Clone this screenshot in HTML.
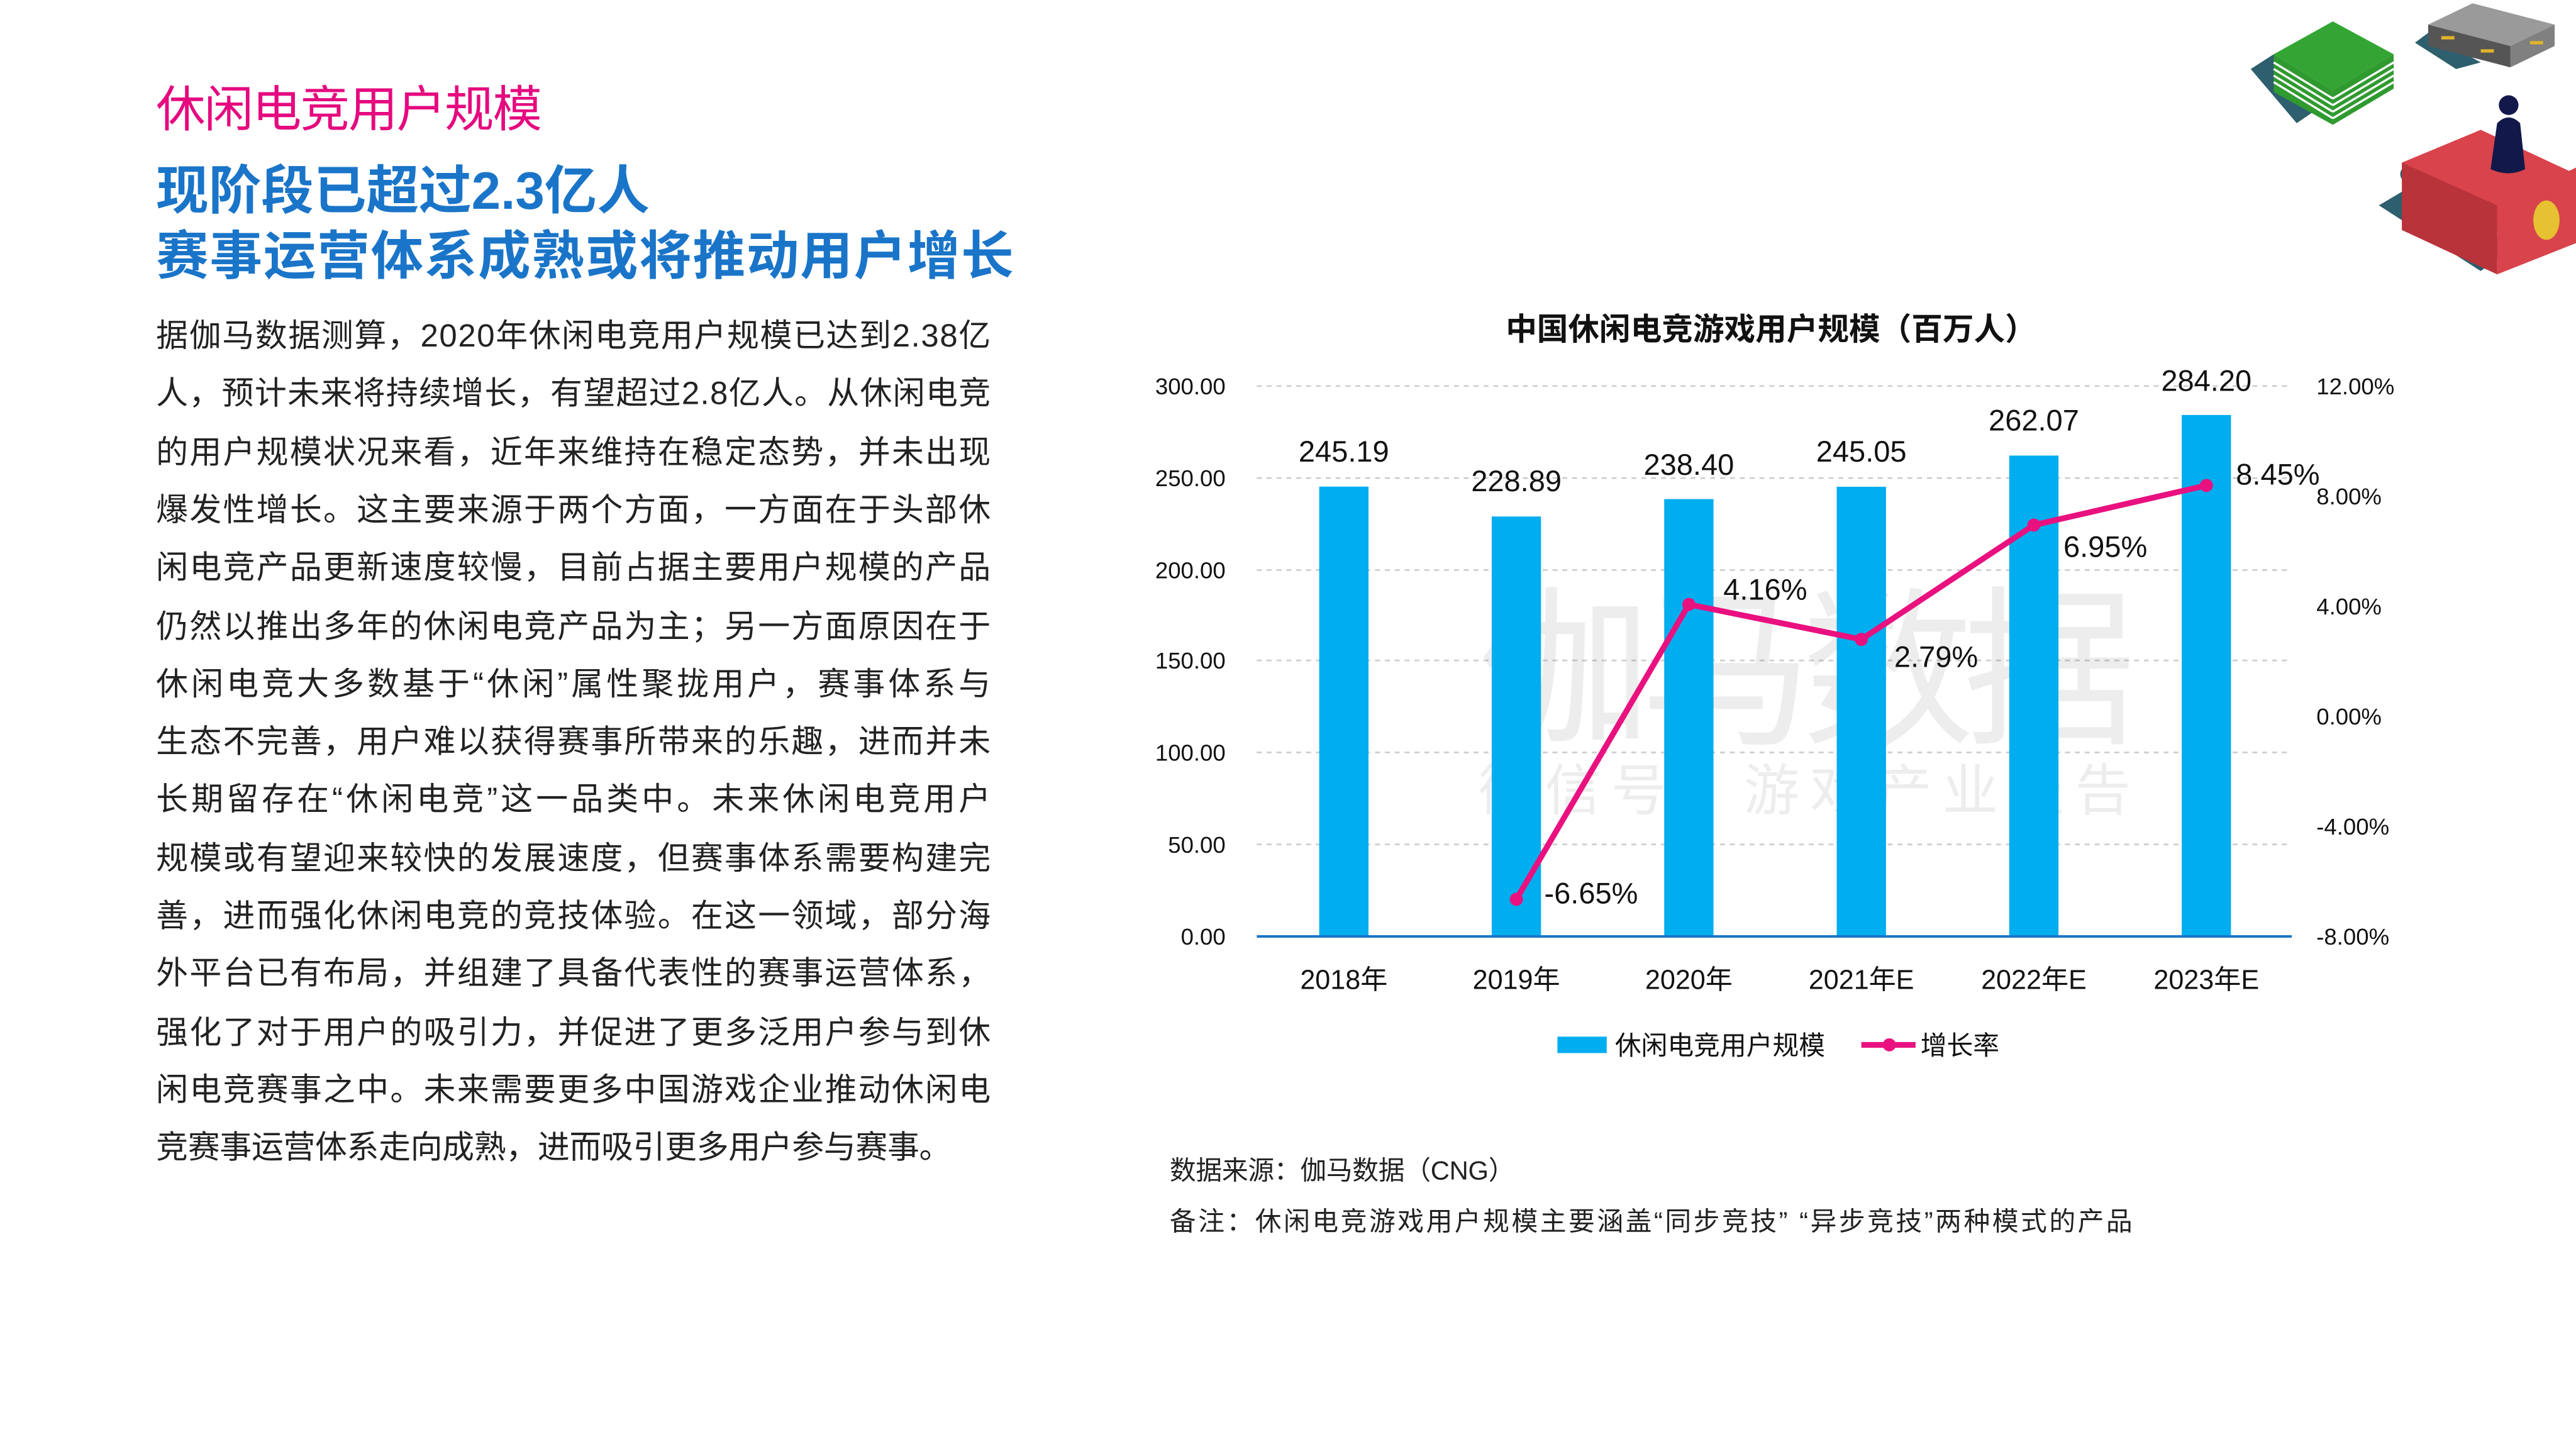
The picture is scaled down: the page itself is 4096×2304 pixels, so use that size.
<!DOCTYPE html>
<html><head><meta charset="utf-8"><style>
html,body{margin:0;padding:0;background:#fff;}
svg{display:block;}
text{font-family:"Liberation Sans","Noto Sans CJK SC",sans-serif;}
</style></head><body>
<svg width="4096" height="2304" viewBox="0 0 1568 882" xmlns="http://www.w3.org/2000/svg">
<rect width="1568" height="882" fill="#fff"/>
<polygon points="1370,42 1384,33 1420,60 1398,75" fill="#2e5f6e"/>
<polygon points="1384,33 1420,13 1457,33 1420,55" fill="#34a534"/>
<polygon points="1384,33 1420,55 1420,76 1384,56" fill="#2f9a2f"/>
<polygon points="1420,55 1457,33 1457,54 1420,76" fill="#2f9a2f"/>
<g stroke="#fff" stroke-width="1.3">
<line x1="1384" y1="38" x2="1420" y2="60"/><line x1="1420" y1="60" x2="1457" y2="38"/>
<line x1="1384" y1="42" x2="1420" y2="64"/><line x1="1420" y1="64" x2="1457" y2="42"/>
<line x1="1384" y1="46" x2="1420" y2="68"/><line x1="1420" y1="68" x2="1457" y2="46"/>
<line x1="1384" y1="50" x2="1420" y2="72"/><line x1="1420" y1="72" x2="1457" y2="50"/>
</g>
<polygon points="1470,26 1478,20 1510,38 1495,42" fill="#2e5f6e"/>
<polygon points="1478,15 1505,2 1555,15 1528,28" fill="#9a9a9a"/>
<polygon points="1478,15 1528,28 1528,41 1478,28" fill="#555"/>
<polygon points="1528,28 1555,15 1555,28 1528,41" fill="#808080"/>
<rect x="1486" y="22" width="8" height="2" fill="#e0b52a"/><rect x="1510" y="30" width="8" height="2" fill="#e0b52a"/><rect x="1540" y="25" width="8" height="2" fill="#e0b52a"/>
<polygon points="1448,125 1470,112 1530,150 1510,165" fill="#2e5f6e"/>
<circle cx="1466" cy="106" r="5" fill="#2e5f6e"/>
<polygon points="1462,99 1510,79 1568,106 1568,120 1520,140" fill="#d9434c"/>
<polygon points="1462,99 1520,125 1520,167 1462,140" fill="#b9333b"/>
<polygon points="1520,125 1568,102 1568,148 1520,167" fill="#d9434c"/>
<ellipse cx="1550" cy="134" rx="8" ry="12" fill="#e6c131"/>
<path d="M1520,75 Q1527,68 1534,75 L1537,103 Q1527,108 1516,103 Z" fill="#12194a"/>
<circle cx="1527" cy="64" r="6" fill="#12194a"/>
<text x="95" y="77" font-size="30" fill="#e5097f" textLength="235">休闲电竞用户规模</text>
<text x="95" y="127" font-size="32" font-weight="bold" fill="#1a75c9">现阶段已超过2.3亿人</text>
<text x="95" y="167" font-size="32" font-weight="bold" fill="#1a75c9" textLength="522">赛事运营体系成熟或将推动用户增长</text>
<g font-size="19.5" fill="#222">
<text x="95" y="211" textLength="508">据伽马数据测算，2020年休闲电竞用户规模已达到2.38亿</text>
<text x="95" y="246" textLength="508">人，预计未来将持续增长，有望超过2.8亿人。从休闲电竞</text>
<text x="95" y="282" textLength="508">的用户规模状况来看，近年来维持在稳定态势，并未出现</text>
<text x="95" y="317" textLength="508">爆发性增长。这主要来源于两个方面，一方面在于头部休</text>
<text x="95" y="352" textLength="508">闲电竞产品更新速度较慢，目前占据主要用户规模的产品</text>
<text x="95" y="388" textLength="508">仍然以推出多年的休闲电竞产品为主；另一方面原因在于</text>
<text x="95" y="423" textLength="508">休闲电竞大多数基于“休闲”属性聚拢用户，赛事体系与</text>
<text x="95" y="458" textLength="508">生态不完善，用户难以获得赛事所带来的乐趣，进而并未</text>
<text x="95" y="493" textLength="508">长期留存在“休闲电竞”这一品类中。未来休闲电竞用户</text>
<text x="95" y="529" textLength="508">规模或有望迎来较快的发展速度，但赛事体系需要构建完</text>
<text x="95" y="564" textLength="508">善，进而强化休闲电竞的竞技体验。在这一领域，部分海</text>
<text x="95" y="599" textLength="508">外平台已有布局，并组建了具备代表性的赛事运营体系，</text>
<text x="95" y="635" textLength="508">强化了对于用户的吸引力，并促进了更多泛用户参与到休</text>
<text x="95" y="670" textLength="508">闲电竞赛事之中。未来需要更多中国游戏企业推动休闲电</text>
<text x="95" y="705" textLength="484">竞赛事运营体系走向成熟，进而吸引更多用户参与赛事。</text>
</g>
<text x="1078" y="207" font-size="19" font-weight="bold" fill="#111" text-anchor="middle">中国休闲电竞游戏用户规模（百万人）</text>
<g stroke="#ccc" stroke-width="1" stroke-dasharray="3,3">
<line x1="765" y1="235" x2="1395" y2="235"/><line x1="765" y1="291" x2="1395" y2="291"/>
<line x1="765" y1="347" x2="1395" y2="347"/><line x1="765" y1="402" x2="1395" y2="402"/>
<line x1="765" y1="458" x2="1395" y2="458"/><line x1="765" y1="514" x2="1395" y2="514"/>
</g>
<text x="900" y="445" font-size="105" fill="#000" fill-opacity="0.07" textLength="400">伽马数据</text>
<text x="900" y="493" font-size="34" fill="#000" fill-opacity="0.07" textLength="397">微信号：游戏产业报告</text>
<g fill="#00adef">
<rect x="803" y="296.2" width="30" height="273.8"/>
<rect x="908" y="314.4" width="30" height="255.6"/>
<rect x="1013" y="303.8" width="30" height="266.2"/>
<rect x="1118" y="296.3" width="30" height="273.7"/>
<rect x="1223" y="277.3" width="30" height="292.7"/>
<rect x="1328" y="252.6" width="30" height="317.4"/>
</g>
<line x1="765" y1="570" x2="1395" y2="570" stroke="#1a75c9" stroke-width="1.5"/>
<g font-size="14" fill="#111" text-anchor="end">
<text x="746" y="240">300.00</text><text x="746" y="296">250.00</text><text x="746" y="352">200.00</text>
<text x="746" y="407">150.00</text><text x="746" y="463">100.00</text><text x="746" y="519">50.00</text><text x="746" y="575">0.00</text>
</g>
<g font-size="14" fill="#111">
<text x="1410" y="240">12.00%</text><text x="1410" y="307">8.00%</text><text x="1410" y="374">4.00%</text>
<text x="1410" y="441">0.00%</text><text x="1410" y="508">-4.00%</text><text x="1410" y="575">-8.00%</text>
</g>
<g font-size="16.5" fill="#111" text-anchor="middle">
<text x="818" y="602">2018年</text><text x="923" y="602">2019年</text><text x="1028" y="602">2020年</text>
<text x="1133" y="602">2021年E</text><text x="1238" y="602">2022年E</text><text x="1343" y="602">2023年E</text>
</g>
<g font-size="18" fill="#111" text-anchor="middle">
<text x="818" y="281">245.19</text><text x="923" y="299">228.89</text><text x="1028" y="289">238.40</text>
<text x="1133" y="281">245.05</text><text x="1238" y="262">262.07</text><text x="1343" y="238">284.20</text>
</g>
<polyline points="923,547.4 1028,367.9 1133,389.2 1238,319.6 1343,295.5" fill="none" stroke="#e9117f" stroke-width="3.5" stroke-linejoin="round"/>
<g fill="#e9117f">
<circle cx="923" cy="547.4" r="4"/><circle cx="1028" cy="367.9" r="4"/><circle cx="1133" cy="389.2" r="4"/>
<circle cx="1238" cy="319.6" r="4"/><circle cx="1343" cy="295.5" r="4"/>
</g>
<g font-size="18" fill="#111">
<text x="940" y="550">-6.65%</text><text x="1049" y="365">4.16%</text><text x="1153" y="406">2.79%</text>
<text x="1256" y="339">6.95%</text><text x="1361" y="295">8.45%</text>
</g>
<rect x="948" y="631" width="30" height="10" fill="#00adef"/>
<text x="983" y="642" font-size="16" fill="#111">休闲电竞用户规模</text>
<line x1="1133" y1="636" x2="1166" y2="636" stroke="#e9117f" stroke-width="3.5"/>
<circle cx="1150" cy="636" r="4" fill="#e9117f"/>
<text x="1169" y="642" font-size="16" fill="#111">增长率</text>
<text x="712" y="718" font-size="16" fill="#222" textLength="210">数据来源：伽马数据（CNG）</text>
<text x="712" y="749" font-size="16" fill="#222" textLength="586">备注：休闲电竞游戏用户规模主要涵盖“同步竞技” “异步竞技”两种模式的产品</text>
</svg>
</body></html>
